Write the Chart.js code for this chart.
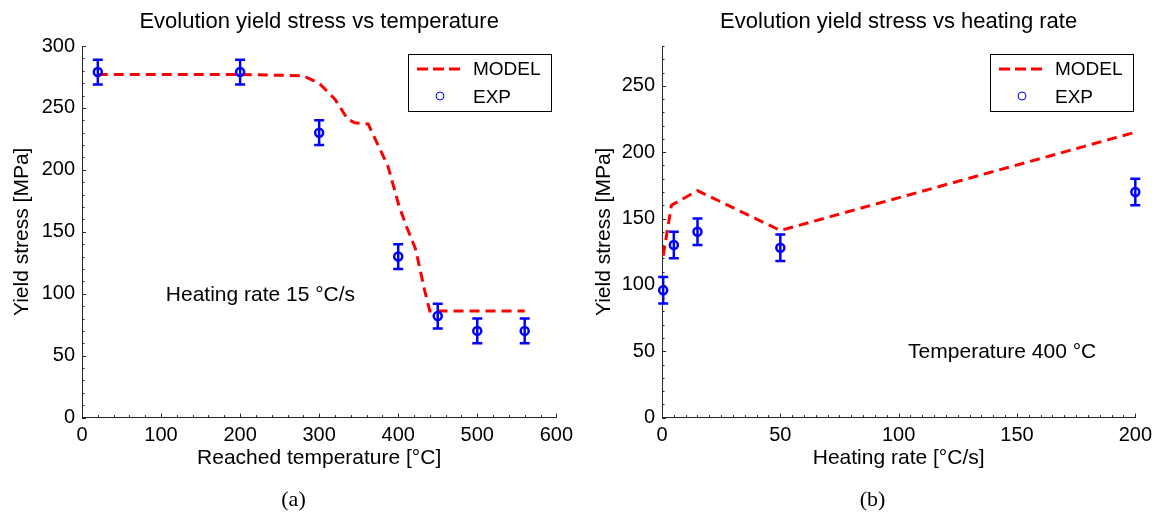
<!DOCTYPE html>
<html>
<head>
<meta charset="utf-8">
<title>Evolution yield stress</title>
<script src="https://cdn.jsdelivr.net/npm/chart.js@4.4.1/dist/chart.umd.min.js"></script>
<style>
  html, body { margin: 0; padding: 0; background: #fff; }
  .row { display: flex; width: 1158px; height: 516px; }
  .panel { position: relative; width: 579px; height: 516px; }
</style>
</head>
<body>
<div class="row">
  <div class="panel"><canvas id="tempChart"></canvas></div>
  <div class="panel"><canvas id="rateChart"></canvas></div>
</div>
<script>
// (a) yield stress vs reached temperature, heating rate 15 °C/s
const tempModelX = [20, 100, 200, 280, 300, 320, 336, 345, 362, 373, 387, 401, 410, 422, 434, 440, 560];
const tempModelY = [277, 277, 277, 276, 270, 257, 241, 238, 237, 222, 203, 171, 155, 136, 101, 86, 86];
const tempExpX = [20, 200, 300, 400, 450, 500, 560];
const tempExpY = [279, 279, 230, 130, 82, 70, 70];
const tempExpErr = [10, 10, 10, 10, 10, 10, 10];
const tempXTicks = [0, 100, 200, 300, 400, 500, 600];
const tempYTicks = [0, 50, 100, 150, 200, 250, 300];

// (b) yield stress vs heating rate, temperature 400 °C
const rateModelX = [0.5, 4, 15, 50, 200];
const rateModelY = [122, 160, 171, 141, 215];
const rateExpX = [0.5, 5, 15, 50, 200];
const rateExpY = [96, 130, 140, 128, 170];
const rateExpErr = [10, 10, 10, 10, 10];
const rateXTicks = [0, 50, 100, 150, 200];
const rateYTicks = [0, 50, 100, 150, 200, 250];

const sansFont = '"Liberation Sans", Arial, Helvetica, sans-serif';
const serifFont = '"Liberation Serif", "DejaVu Serif", serif';
Chart.defaults.font.family = sansFont;
Chart.defaults.color = '#000';

function toPoints(xs, ys) {
    return xs.map((x, i) => ({ x: x, y: ys[i] }));
}

// vertical error bars with caps, drawn over the markers
const errorBars = {
    id: 'errorBars',
    afterDatasetsDraw(chart) {
        const ctx = chart.ctx;
        const yScale = chart.scales.y;
        chart.data.datasets.forEach((ds, i) => {
            if (!ds.errors) return;
            const meta = chart.getDatasetMeta(i);
            ctx.save();
            ctx.strokeStyle = ds.borderColor;
            ctx.lineWidth = 2.5;
            meta.data.forEach((pt, j) => {
                const v = ds.data[j].y, e = ds.errors[j];
                const top = yScale.getPixelForValue(v + e);
                const bot = yScale.getPixelForValue(v - e);
                ctx.beginPath();
                ctx.moveTo(pt.x, top); ctx.lineTo(pt.x, bot);
                ctx.moveTo(pt.x - 5, top); ctx.lineTo(pt.x + 5, top);
                ctx.moveTo(pt.x - 5, bot); ctx.lineTo(pt.x + 5, bot);
                ctx.stroke();
            });
            ctx.restore();
        });
    }
};

// matlab style tick marks pointing into the plot
const innerTicks = {
    id: 'innerTicks',
    afterDraw(chart, args, opts) {
        const { ctx, chartArea } = chart;
        const xs = chart.scales.x, ys = chart.scales.y;
        const isMajor = (v, step) => Math.abs(v / step - Math.round(v / step)) < 1e-6;
        ctx.save();
        ctx.strokeStyle = '#262626';
        ctx.lineWidth = 1;
        ctx.beginPath();
        for (let v = xs.min; v <= xs.max + 1e-9; v += opts.xMinor) {
            const px = Math.round(xs.getPixelForValue(v)) + 0.5;
            const len = isMajor(v, opts.xMajor) ? 4 : 2.5;
            ctx.moveTo(px, chartArea.bottom);
            ctx.lineTo(px, chartArea.bottom - len);
        }
        for (let v = ys.min; v <= ys.max + 1e-9; v += opts.yMinor) {
            const py = Math.round(ys.getPixelForValue(v)) + 0.5;
            const len = isMajor(v, opts.yMajor) ? 4 : 2.5;
            ctx.moveTo(chartArea.left, py);
            ctx.lineTo(chartArea.left + len, py);
        }
        ctx.stroke();
        ctx.restore();
    }
};

// boxed legend in the upper right corner of the axes
const boxLegend = {
    id: 'boxLegend',
    afterDraw(chart, args, opts) {
        const { ctx, chartArea } = chart;
        const model = chart.data.datasets[0], exp = chart.data.datasets[1];
        const w = 143, h = 57;
        const left = Math.round(chartArea.right - opts.right - w);
        const top = Math.round(chartArea.top + 8);
        ctx.save();
        ctx.fillStyle = '#fff';
        ctx.fillRect(left, top, w, h);
        ctx.strokeStyle = '#000';
        ctx.lineWidth = 1;
        ctx.strokeRect(left + 0.5, top + 0.5, w, h);
        ctx.strokeStyle = model.borderColor;
        ctx.lineWidth = 3;
        ctx.setLineDash([11, 5]);
        ctx.beginPath();
        ctx.moveTo(left + 9, top + 15);
        ctx.lineTo(left + 52, top + 15);
        ctx.stroke();
        ctx.setLineDash([]);
        ctx.strokeStyle = exp.borderColor;
        ctx.lineWidth = 1;
        ctx.beginPath();
        ctx.arc(left + 32, top + 42, 4, 0, Math.PI * 2);
        ctx.stroke();
        ctx.fillStyle = '#000';
        ctx.font = '19px ' + sansFont;
        ctx.textBaseline = 'middle';
        ctx.fillText(model.label, left + 65, top + 16);
        ctx.fillText(exp.label, left + 65, top + 44);
        ctx.restore();
    }
};

// free text placed in data coordinates
const noteText = {
    id: 'noteText',
    afterDatasetsDraw(chart, args, opts) {
        const ctx = chart.ctx;
        ctx.save();
        ctx.fillStyle = '#000';
        ctx.font = '21px ' + sansFont;
        ctx.textAlign = 'left';
        ctx.textBaseline = 'middle';
        ctx.fillText(opts.text, chart.scales.x.getPixelForValue(opts.x), chart.scales.y.getPixelForValue(opts.y));
        ctx.restore();
    }
};

// sub-figure caption centred under the whole panel
const caption = {
    id: 'caption',
    afterDraw(chart, args, opts) {
        const ctx = chart.ctx;
        ctx.save();
        ctx.fillStyle = '#000';
        ctx.font = '22px ' + serifFont;
        ctx.textAlign = 'center';
        ctx.textBaseline = 'middle';
        ctx.fillText(opts.text, chart.width / 2 + 4, chart.height - 16);
        ctx.restore();
    }
};

function buildChart(canvasId, o) {
    return new Chart(document.getElementById(canvasId), {
        type: 'scatter',
        data: {
            datasets: [{
                label: 'MODEL',
                data: toPoints(o.modelX, o.modelY),
                showLine: true,
                borderColor: '#ff0000',
                borderWidth: 3,
                borderDash: [10, 6],
                pointRadius: 0,
                fill: false,
                order: 2
            }, {
                label: 'EXP',
                data: toPoints(o.expX, o.expY),
                errors: o.expErr,
                borderColor: '#0000ff',
                backgroundColor: 'rgba(0,0,0,0)',
                pointRadius: 4,
                pointBorderWidth: 2.5,
                clip: false,
                order: 1
            }]
        },
        options: {
            responsive: true,
            maintainAspectRatio: false,
            animation: false,
            layout: { padding: { left: 0, right: o.rightPad, top: 0, bottom: 32.4 } },
            scales: {
                x: {
                    type: 'linear',
                    min: o.xTicks[0],
                    max: o.xTicks[o.xTicks.length - 1],
                    afterBuildTicks: s => { s.ticks = o.xTicks.map(v => ({ value: v })); },
                    afterFit: s => { s.height = 66; },
                    grid: { display: false, drawTicks: false },
                    border: { display: true, color: '#262626', width: 1 },
                    ticks: { font: { size: 20 }, padding: 6, maxRotation: 0, color: '#000' },
                    title: { display: true, text: o.xTitle, font: { size: 21 }, padding: { top: 0, bottom: 13 }, color: '#000' }
                },
                y: {
                    type: 'linear',
                    min: 0,
                    max: o.yMax,
                    afterBuildTicks: s => { s.ticks = o.yTicks.map(v => ({ value: v })); },
                    afterFit: s => { s.width = o.yWidth; },
                    grid: { display: false, drawTicks: false },
                    border: { display: true, color: '#262626', width: 1 },
                    ticks: { font: { size: 20 }, padding: 7, color: '#000' },
                    title: { display: true, text: 'Yield stress [MPa]', font: { size: 21 }, padding: { top: o.yTitlePad, bottom: 0 }, color: '#000' }
                }
            },
            plugins: {
                legend: { display: false },
                tooltip: { enabled: false },
                title: {
                    display: true,
                    text: o.title,
                    fullSize: false,
                    font: { size: 22, weight: 'normal' },
                    padding: { top: 8.8, bottom: 10.8 },
                    color: '#000'
                },
                innerTicks: { xMajor: o.xTicks[1], xMinor: o.xMinor, yMajor: 50, yMinor: 10 },
                boxLegend: { right: o.legendRight },
                noteText: o.note,
                caption: { text: o.caption }
            }
        },
        plugins: [errorBars, innerTicks, boxLegend, noteText, caption]
    });
}

buildChart('tempChart', {
    modelX: tempModelX, modelY: tempModelY,
    expX: tempExpX, expY: tempExpY, expErr: tempExpErr,
    xTicks: tempXTicks, yTicks: tempYTicks, yMax: 300, xMinor: 20,
    title: 'Evolution yield stress vs temperature',
    xTitle: 'Reached temperature [°C]',
    caption: '(a)',
    yWidth: 82, yTitlePad: 9.4, rightPad: 21, legendRight: 5,
    note: { text: 'Heating rate 15 °C/s', x: 106, y: 99 }
});

buildChart('rateChart', {
    modelX: rateModelX, modelY: rateModelY,
    expX: rateExpX, expY: rateExpY, expErr: rateExpErr,
    xTicks: rateXTicks, yTicks: rateYTicks, yMax: 280, xMinor: 5,
    title: 'Evolution yield stress vs heating rate',
    xTitle: 'Heating rate [°C/s]',
    caption: '(b)',
    yWidth: 83, yTitlePad: 13, rightPad: 20, legendRight: 2,
    note: { text: 'Temperature 400 °C', x: 104, y: 49.5 }
});
</script>
</body>
</html>
